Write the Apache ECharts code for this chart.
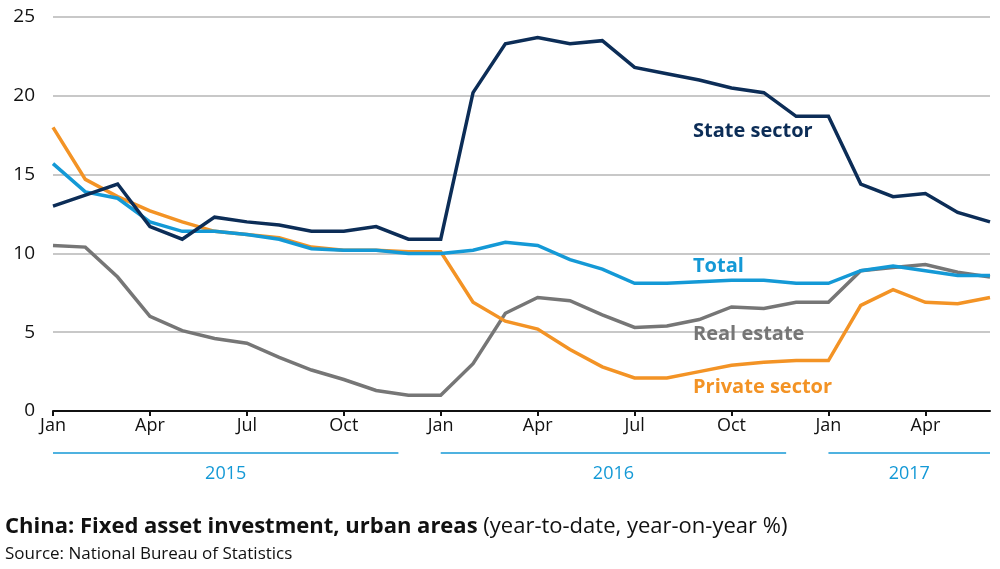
<!DOCTYPE html>
<html><head><meta charset="utf-8">
<script src="https://cdn.jsdelivr.net/npm/echarts@6/dist/echarts.min.js"></script>
<style>html,body{margin:0;padding:0;background:#fff}#c{width:1000px;height:569px}</style>
</head><body><div id="c"></div>
<script>
const months = ['Jan','Feb','Mar','Apr','May','Jun','Jul','Aug','Sep','Oct','Nov','Dec',
  'Jan','Feb','Mar','Apr','May','Jun','Jul','Aug','Sep','Oct','Nov','Dec',
  'Jan','Feb','Mar','Apr','May','Jun'];
const years = ['2015','2016','2017'];
const stateSector = [13.0,13.7,14.4,11.7,10.9,12.3,12.0,11.8,11.4,11.4,11.7,10.9,
  10.9,20.2,23.3,23.7,23.3,23.5,21.8,21.4,21.0,20.5,20.2,18.7,
  18.7,14.4,13.6,13.8,12.6,12.0];
const total = [15.7,13.9,13.5,12.0,11.4,11.4,11.2,10.9,10.3,10.2,10.2,10.0,
  10.0,10.2,10.7,10.5,9.6,9.0,8.1,8.1,8.2,8.3,8.3,8.1,
  8.1,8.9,9.2,8.9,8.6,8.6];
const privateSector = [18.0,14.7,13.6,12.7,12.0,11.4,11.2,11.0,10.4,10.2,10.2,10.1,
  10.1,6.9,5.7,5.2,3.9,2.8,2.1,2.1,2.5,2.9,3.1,3.2,
  3.2,6.7,7.7,6.9,6.8,7.2];
const realEstate = [10.5,10.4,8.5,6.0,5.1,4.6,4.3,3.4,2.6,2.0,1.3,1.0,
  1.0,3.0,6.2,7.2,7.0,6.1,5.3,5.4,5.8,6.6,6.5,6.9,
  6.9,8.9,9.1,9.3,8.8,8.5];

const C_NAVY = '#0c2d57', C_BLUE = '#1499d6', C_ORANGE = '#f39325', C_GRAY = '#767676';
const narrow = '"Open Sans",sans-serif';
const chart = echarts.init(document.getElementById('c'), null, {renderer:'canvas'});
function line(name, data, color, z){
  return {name, type:'line', data, symbol:'none', z,
    lineStyle:{color, width:3.5, join:'miter'}, itemStyle:{color}, animation:false};
}
chart.setOption({
  animation:false,
  grid:{left:53, right:10, top:17, bottom:158, containLabel:false},
  xAxis:{type:'category', data:months, boundaryGap:false,
    axisLine:{lineStyle:{color:'#111', width:2}},
    axisTick:{show:true, interval:(i)=>i%3===0, length:5, inside:false, lineStyle:{color:'#111', width:2}},
    axisLabel:{interval:(i)=>i%3===0, color:'#111', fontFamily:narrow, fontSize:18, margin:6},
    splitLine:{show:false}},
  yAxis:{type:'value', min:0, max:25, interval:5,
    axisLine:{show:false}, axisTick:{show:false},
    axisLabel:{color:'#111', fontFamily:narrow, fontSize:19, margin:18},
    splitLine:{lineStyle:{color:'#c8c8c8', width:2}}},
  series:[
    line('Real estate', realEstate, C_GRAY, 2),
    line('Private sector', privateSector, C_ORANGE, 3),
    line('Total', total, C_BLUE, 4),
    line('State sector', stateSector, C_NAVY, 5)
  ]
});

const g = [];
const yLine = 453, yText = 474;
years.forEach((yr, k)=>{
  const i0 = k*12;
  const i1 = Math.min(k*12+11, months.length-1);
  const x0 = chart.convertToPixel({xAxisIndex:0}, i0);
  let x1 = chart.convertToPixel({xAxisIndex:0}, i1);
  if (k*12+11 <= months.length-1) x1 -= 10;
  g.push({type:'line', shape:{x1:x0, y1:yLine, x2:x1, y2:yLine}, style:{stroke:C_BLUE, lineWidth:1.5}});
  g.push({type:'text', x:(x0+x1)/2, y:yText, style:{text:yr, fill:C_BLUE, font:'18px '+narrow, textAlign:'center', textVerticalAlign:'middle'}});
});
g.push({type:'text', x:693, y:131, style:{text:'State sector', fill:C_NAVY, font:'bold 20px "Open Sans",sans-serif', textVerticalAlign:'middle'}});
g.push({type:'text', x:693, y:266, style:{text:'Total', fill:C_BLUE, font:'bold 20px "Open Sans",sans-serif', textVerticalAlign:'middle'}});
g.push({type:'text', x:693, y:334, style:{text:'Real estate', fill:C_GRAY, font:'bold 20px "Open Sans",sans-serif', textVerticalAlign:'middle'}});
g.push({type:'text', x:693, y:387, style:{text:'Private sector', fill:C_ORANGE, font:'bold 20px "Open Sans",sans-serif', textVerticalAlign:'middle'}});
g.push({type:'text', x:5, y:527, style:{
  rich:{b:{font:'bold 22px '+narrow, fill:'#111'}, n:{font:'22px '+narrow, fill:'#111'}},
  text:'{b|China: Fixed asset investment, urban areas}{n|\u00a0(year-to-date, year-on-year %)}', textVerticalAlign:'middle'}});
g.push({type:'text', x:5, y:554, style:{text:'Source: National Bureau of Statistics', fill:'#111', font:'17px '+narrow, textVerticalAlign:'middle'}});
chart.setOption({graphic:g});
</script></body></html>
